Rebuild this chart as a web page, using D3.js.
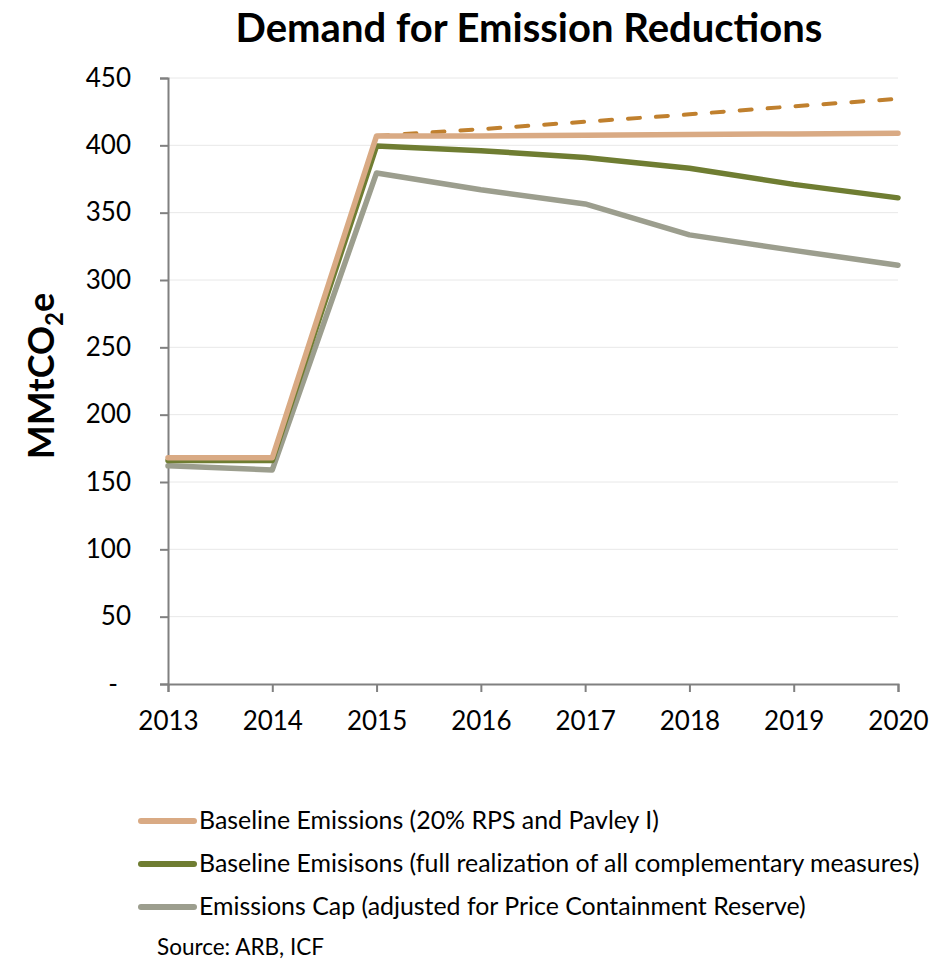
<!DOCTYPE html>
<html>
<head>
<meta charset="utf-8">
<script src="https://cdn.jsdelivr.net/npm/d3@7"></script>
<style>
  body { margin: 0; background: #fff; }
  text { font-family: Lato, sans-serif; fill: #000; }
</style>
</head>
<body>
<div id="chart"></div>
<script>
const years = [2013, 2014, 2015, 2016, 2017, 2018, 2019, 2020];
const baseline = [168, 168, 407, 407, 407.5, 408, 408.5, 409];
const baselineTrend = [null, null, 407, 412, 417.5, 423, 429, 434.5];
const complementary = [166, 166, 399.5, 396, 391, 383, 371, 361];
const cap = [162, 159, 379.5, 367, 356.5, 333.5, 322, 311];
const yTicks = [0, 50, 100, 150, 200, 250, 300, 350, 400, 450];
const legendLabels = [
  "Baseline Emissions (20% RPS and Pavley I)",
  "Baseline Emisisons (full realization of all complementary measures)",
  "Emissions Cap (adjusted for Price Containment Reserve)"
];

const width = 940, height = 971;
const svg = d3.select("#chart").append("svg")
  .attr("width", width)
  .attr("height", height);

const x = d3.scaleLinear().domain([2013, 2020]).range([168, 898]);
const y = d3.scaleLinear().domain([0, 450]).range([684, 78]);

// gridlines
svg.append("g")
  .selectAll("line")
  .data(yTicks.filter(d => d > 0))
  .enter().append("line")
  .attr("x1", x(2013)).attr("x2", x(2020))
  .attr("y1", d => y(d)).attr("y2", d => y(d))
  .attr("stroke", "#e8e8e8")
  .attr("stroke-width", 1);

// y axis
const yAxis = svg.append("g")
  .attr("transform", `translate(${x(2013)},0)`)
  .call(d3.axisLeft(y).tickValues(yTicks).tickSize(8).tickPadding(29)
    .tickFormat(d => d === 0 ? "-" : d));
yAxis.select(".domain").attr("stroke", "#808080").attr("stroke-width", 2);
yAxis.selectAll(".tick line").attr("stroke", "#808080").attr("stroke-width", 2);
yAxis.selectAll("text").style("font-size", "26px");
yAxis.selectAll(".tick text").filter(d => d === 0).attr("dx", -13);

// x axis
const xAxis = svg.append("g")
  .attr("transform", `translate(0,${y(0)})`)
  .call(d3.axisBottom(x).tickValues(years).tickSize(8).tickPadding(20)
    .tickFormat(d3.format("d")));
xAxis.select(".domain").attr("stroke", "#808080").attr("stroke-width", 2);
xAxis.selectAll(".tick line").attr("stroke", "#808080").attr("stroke-width", 2);
xAxis.selectAll("text").style("font-size", "26px");

const line = d3.line()
  .defined(d => d[1] != null)
  .x(d => x(d[0]))
  .y(d => y(d[1]));

const zipped = arr => years.map((yr, i) => [yr, arr[i]]);

svg.append("path")
  .datum(zipped(baselineTrend))
  .attr("d", line)
  .attr("fill", "none")
  .attr("stroke", "#c0802e")
  .attr("stroke-width", 4)
  .attr("stroke-linecap", "round")
  .attr("stroke-dasharray", "12,16");

const series = [
  { values: baseline, color: "#d9aa84" },
  { values: complementary, color: "#6f7d32" },
  { values: cap, color: "#9c9e8e" }
];

// draw cap first so the baselines sit on top
series.slice().reverse().forEach(s => {
  svg.append("path")
    .datum(zipped(s.values))
    .attr("d", line)
    .attr("fill", "none")
    .attr("stroke", s.color)
    .attr("stroke-width", 5.5)
    .attr("stroke-linejoin", "round")
    .attr("stroke-linecap", "round");
});

// title
svg.append("text")
  .attr("x", 529).attr("y", 42)
  .attr("text-anchor", "middle")
  .style("font-size", "40px")
  .style("font-weight", "bold")
  .text("Demand for Emission Reductions");

// y label
const yl = svg.append("text")
  .attr("transform", "translate(54,376) rotate(-90)")
  .attr("text-anchor", "middle")
  .style("font-size", "36px")
  .style("font-weight", "bold");
yl.append("tspan").text("MMtCO");
yl.append("tspan").attr("dy", 9).style("font-size", "24px").text("2");
yl.append("tspan").attr("dy", -9).text("e");

// legend
const lg = svg.append("g");
series.forEach((s, i) => {
  const ly = 821 + i * 43;
  lg.append("line")
    .attr("x1", 141).attr("x2", 194)
    .attr("y1", ly).attr("y2", ly)
    .attr("stroke", s.color)
    .attr("stroke-width", 6)
    .attr("stroke-linecap", "round");
  lg.append("text")
    .attr("x", 199).attr("y", ly + 8)
    .style("font-size", "24.9px")
    .text(legendLabels[i]);
});

svg.append("text")
  .attr("x", 157).attr("y", 955)
  .style("font-size", "22.5px")
  .text("Source: ARB, ICF");
</script>
</body>
</html>
